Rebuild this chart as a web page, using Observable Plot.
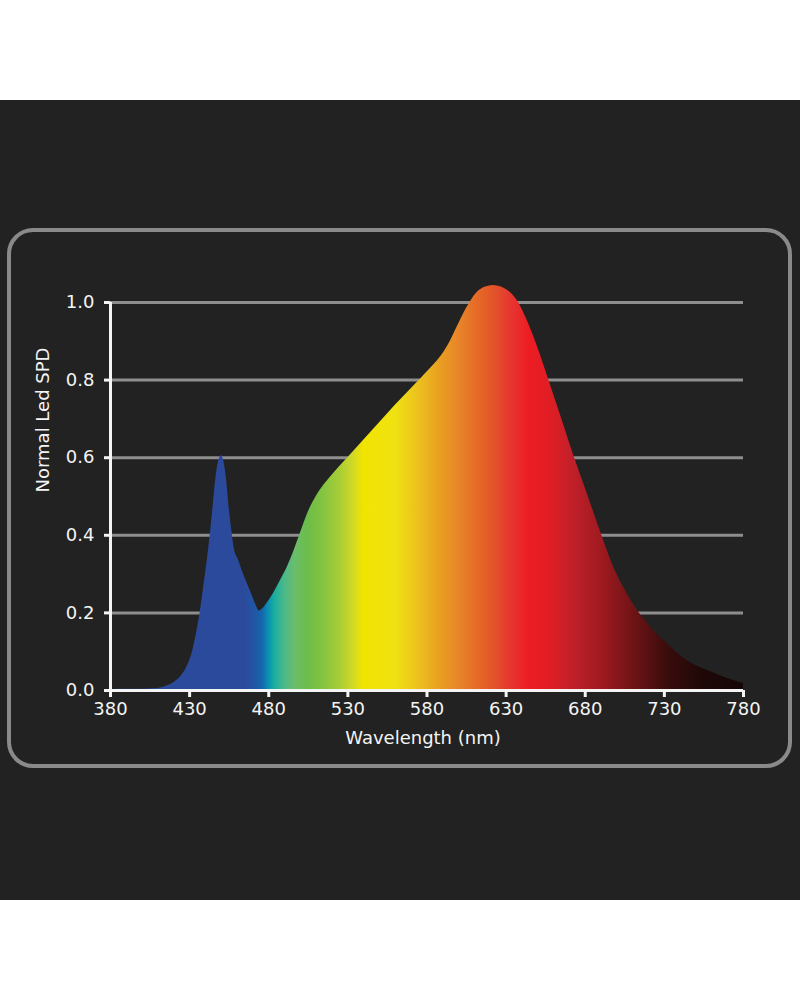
<!DOCTYPE html>
<html><head><meta charset="utf-8">
<script src="https://cdn.jsdelivr.net/npm/d3@7"></script>
<script src="https://cdn.jsdelivr.net/npm/@observablehq/plot@0.6"></script>
<style>
html,body{margin:0;padding:0;background:#fff;width:800px;height:1000px;overflow:hidden;}
#panel{position:absolute;left:0;top:100px;width:800px;height:800px;background:#222222;}
#frame{position:absolute;left:7px;top:128px;width:785px;height:540px;border:4px solid #8a8a8a;border-radius:26px;box-sizing:border-box;}
#chart{position:absolute;left:0;top:0;}
</style></head>
<body>
<div id="panel"><div id="frame"></div><div id="chart"></div></div>
<script>
const wavelengths = [380,390,400,410,416,420,424,428,431,434,437,439,441,443,445,447,449,450,451,453,455,457,458,461,464,467,470,472,474,476,479,483,487,492,496,500,505,510,515,520,530,540,550,560,570,576,582,587,591,595,599,603,607,612,617,622,627,631,637,643,650,656,664,672,681,690,698,705,710,716,723,732,744,757,770,780];
const spd = [0.002,0.003,0.003,0.005,0.012,0.02,0.034,0.058,0.088,0.14,0.21,0.27,0.33,0.40,0.48,0.56,0.60,0.605,0.60,0.555,0.47,0.40,0.37,0.335,0.30,0.27,0.24,0.22,0.205,0.21,0.225,0.25,0.28,0.32,0.36,0.405,0.46,0.50,0.53,0.555,0.60,0.645,0.69,0.735,0.778,0.803,0.829,0.852,0.874,0.902,0.936,0.970,0.999,1.027,1.040,1.044,1.040,1.031,1.005,0.957,0.884,0.812,0.714,0.615,0.51,0.405,0.317,0.26,0.225,0.19,0.155,0.12,0.078,0.052,0.031,0.018];
const xTicks = [380,430,480,530,580,630,680,730,780];
const yTicks = [0,0.2,0.4,0.6,0.8,1.0];
const stopNm = [380,465,472,476,480,484,490,497,505,515,525,533,540,560,568,576,588,600,612,624,633,645,658,672,690,710,732,753,780];
const stopColor = ["#2b4a9c","#2b4a9c","#1f58a6","#1566ad","#0a92b2","#1aae9f","#4cb98a","#6bbd6a","#6cbd48","#86c440","#a8cd36","#cfd828","#f2e400","#efe212","#eed018","#ecbe20","#e8a020","#e8862a","#e66a26","#e2502a","#e63630","#ec1c24","#e01e24","#c0202a","#a01a20","#701416","#3a0c0c","#200808","#140606"];

const data = wavelengths.map((nm,i)=>({nm, v: spd[i]}));
const font = "'DejaVu Sans', sans-serif";
const white = "#f4f4f4";

const chart = Plot.plot({
  width: 800, height: 800,
  marginLeft: 110, marginRight: 57, marginTop: 202, marginBottom: 210,
  style: {background: "transparent", color: white, fontFamily: font, fontSize: "18px"},
  x: {domain: [380, 780], label: null},
  y: {domain: [0, 1], label: null},
  marks: [
    Plot.ruleY(yTicks.slice(1), {x1: 380, x2: 780, stroke: "#8e8e8e", strokeWidth: 3}),
    Plot.areaY(data, {x: "nm", y: "v", fill: "url(#spectrum)", curve: "monotone-x"}),
    Plot.ruleX([380], {y1: 0, y2: 1, stroke: white, strokeWidth: 3}),
    Plot.ruleY([0], {x1: 380, x2: 780, stroke: white, strokeWidth: 3}),
    Plot.axisX({ticks: xTicks, tickFormat: d => String(d), tickSize: 7, tickPadding: 5, stroke: white, strokeWidth: 3, fill: white, fontSize: 18, label: null}),
    Plot.axisY({ticks: yTicks, tickFormat: d3.format(".1f"), tickSize: 6, tickPadding: 10, stroke: white, strokeWidth: 3, fill: white, fontSize: 18, label: null}),
    Plot.text(["Wavelength (nm)"], {frameAnchor: "bottom", lineAnchor: "middle", dy: 48, dx: -4, fill: white, fontSize: 18}),
    Plot.text(["Normal Led SPD"], {frameAnchor: "left", lineAnchor: "middle", dx: -67, dy: -4, rotate: -90, fill: white, fontSize: 18})
  ]
});

const xs = chart.scale("x");
const svg = d3.select(chart);
const grad = svg.insert("defs", ":first-child").append("linearGradient")
  .attr("id", "spectrum").attr("gradientUnits", "userSpaceOnUse")
  .attr("x1", xs.apply(380)).attr("x2", xs.apply(780)).attr("y1", 0).attr("y2", 0);
stopNm.forEach((nm, i) => {
  grad.append("stop").attr("offset", (nm - 380) / 400).attr("stop-color", stopColor[i]);
});
document.getElementById("chart").appendChild(chart);
</script>
</body></html>
